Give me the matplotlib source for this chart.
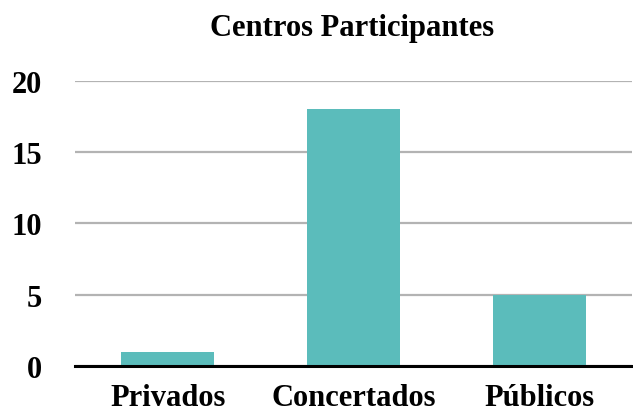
import matplotlib
matplotlib.use('Agg')
import matplotlib.pyplot as plt

categories = ['Privados', 'Concertados', 'Públicos']
values = [1, 18, 5]
y_ticks = [0, 5, 10, 15, 20]

plt.rcParams['font.family'] = ['Liberation Serif', 'DejaVu Serif']
plt.rcParams['font.weight'] = 'bold'

fig = plt.figure(figsize=(6.33, 4.14), dpi=100)
ax = fig.add_axes([0.1185, 0.1135, 0.88, 0.6885])

x = range(len(categories))
ax.bar(x, values, width=0.5, color='#5bbcbb', zorder=3)

ax.set_xlim(-0.5, len(categories) - 0.5)
ax.set_ylim(0, 20)
ax.set_yticks(y_ticks)
ax.set_xticks(list(x))
ax.set_xticklabels(categories)
ax.yaxis.grid(True, color='#b3b3b3', linewidth=1.6, zorder=0)
ax.axhline(0, color='black', linewidth=2.2, zorder=4, clip_on=False)

for s in ax.spines.values():
    s.set_visible(False)
ax.tick_params(axis='both', length=0, labelsize=22)
ax.tick_params(axis='x', pad=12)
ax.tick_params(axis='y', pad=24)
for lbl in ax.get_yticklabels() + ax.get_xticklabels():
    lbl.set_fontweight('bold')

fig.text(0.556, 0.93, 'Centros Participantes', ha='center', va='center',
         fontsize=22, fontweight='bold')

fig.savefig('out.png', dpi=100)
